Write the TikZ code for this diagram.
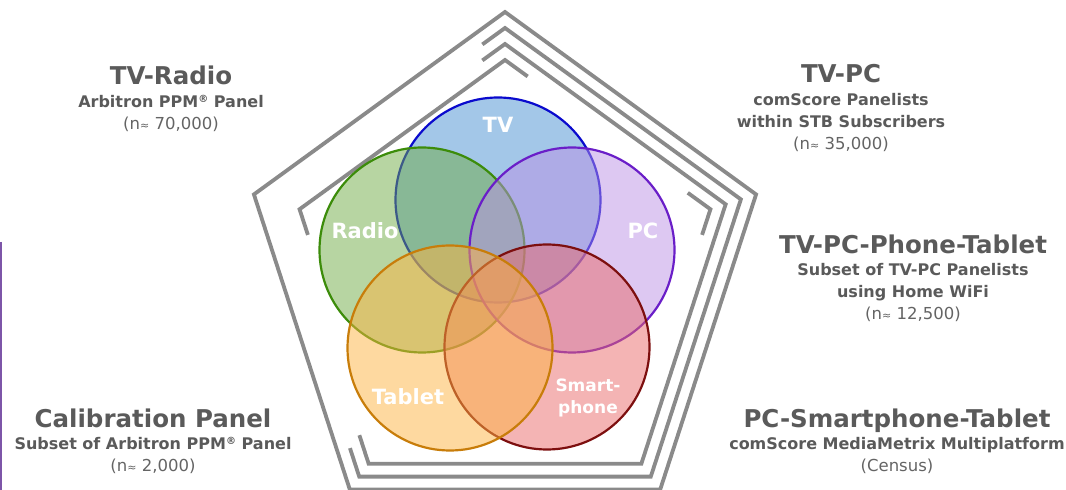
\documentclass[tikz,border=0pt]{standalone}
\usepackage{fontspec}
\setmainfont{DejaVu Sans}
\usetikzlibrary{calc}
\definecolor{framegray}{HTML}{8A8A8A}
\definecolor{ink}{HTML}{5A5A5A}
\definecolor{countgray}{HTML}{646464}
\definecolor{edgepurple}{HTML}{7D55A8}
\definecolor{tvfill}{HTML}{478FD1}
\definecolor{tvline}{HTML}{0A0ACD}
\definecolor{radiofill}{HTML}{6FAB45}
\definecolor{radioline}{HTML}{3C8C0A}
\definecolor{pcfill}{HTML}{BB91E5}
\definecolor{pcline}{HTML}{6A1EC8}
\definecolor{tabletfill}{HTML}{FDB341}
\definecolor{tabletline}{HTML}{C87D0A}
\definecolor{phonefill}{HTML}{E96969}
\definecolor{phoneline}{HTML}{7D0F0F}
\newcommand{\paneltitle}[1]{{\fontsize{24.5}{26}\selectfont #1}}
\newcommand{\panelcount}[1]{{\mdseries\fontsize{16.5}{22}\selectfont\color{countgray}#1}}
\newcommand{\approxsign}{{\fontsize{11}{11}\selectfont ≈}}
\newcommand{\regsign}{\raisebox{.55ex}{\fontsize{10}{10}\selectfont ®}}

\begin{document}
\begin{tikzpicture}[x=1pt, y=1pt,
  frameline/.style={draw=framegray, line width=3.8pt},
  set/.style={circle, minimum size=205pt, inner sep=0pt, line width=2.2pt,
              fill opacity=0.5},
  setlabel/.style={text=white, font=\fontsize{21}{24}\selectfont\bfseries},
  panel/.style={align=center, inner sep=0pt, anchor=north, text=ink,
                font=\fontsize{16}{22}\selectfont\bfseries}
]
\useasboundingbox (0,0) rectangle (1066,490);
\draw[edgepurple, line width=2pt] (1,248) -- (1,0);

% nested pentagon frame
\coordinate (c) at (505,214);
\foreach \j in {0,...,3}
  \foreach \k in {0,...,4}
    \coordinate (v\j\k) at ($(c)+(90+72*\k:{264-16*\j})$);
\draw[frameline] (v00) -- (v01) -- (v02) -- (v03) -- (v04) -- cycle;
\foreach \j in {1,2}
  \draw[frameline] ($(v\j2)!30pt!(v\j1)$) -- (v\j2) -- (v\j3) -- (v\j4)
    -- (v\j0) -- ($(v\j0)!28pt!(v\j1)$);
\draw[frameline] ($(v30)!28pt!(v34)$) -- (v30) -- (v31) -- ($(v31)!27pt!(v32)$);
\draw[frameline] ($(v34)!28pt!(v30)$) -- (v34) -- ($(v34)!27pt!(v33)$);

% the five device sets
\node[set, fill=tvfill, draw=tvline] (tv) at (498,290) {};
\node[set, fill=radiofill, draw=radioline] (radio) at (422,240) {};
\node[set, fill=pcfill, draw=pcline] (pc) at (572,240) {};
\node[set, fill=phonefill, draw=phoneline] (phone) at (547,143) {};
\node[set, fill=tabletfill, draw=tabletline] (tablet) at (450,142) {};

\node[setlabel] (tvlab) at (498,365) {TV};
\node[setlabel] (radiolab) at (365,259) {Radio};
\node[setlabel] (pclab) at (643,259) {PC};
\node[setlabel] (tabletlab) at (408,93) {Tablet};
\node[setlabel, align=center, font=\fontsize{17}{22}\selectfont\bfseries]
  (phonelab) at (588,92) {Smart-\\phone};

% panels around the frame
\node[panel] (tvradio) at (171,424.5)
  {\paneltitle{TV-Radio}\\[1pt] Arbitron PPM\regsign{} Panel\\
   \panelcount{(n\approxsign{} 70,000)}};
\node[panel] (tvpc) at (841,425.5)
  {\paneltitle{TV-PC}\\[1pt] comScore Panelists\\ within STB Subscribers\\
   \panelcount{(n\approxsign{} 35,000)}};
\node[panel] (tvpcpt) at (913,255.5)
  {\paneltitle{TV-PC-Phone-Tablet}\\ Subset of TV-PC Panelists\\ using Home WiFi\\
   \panelcount{(n\approxsign{} 12,500)}};
\node[panel] (calib) at (153,81.5)
  {\paneltitle{Calibration Panel}\\ Subset of Arbitron PPM\regsign{} Panel\\
   \panelcount{(n\approxsign{} 2,000)}};
\node[panel] (pcspt) at (897,81.5)
  {\paneltitle{PC-Smartphone-Tablet}\\ comScore MediaMetrix Multiplatform\\
   \panelcount{(Census)}};
\end{tikzpicture}
\end{document}
